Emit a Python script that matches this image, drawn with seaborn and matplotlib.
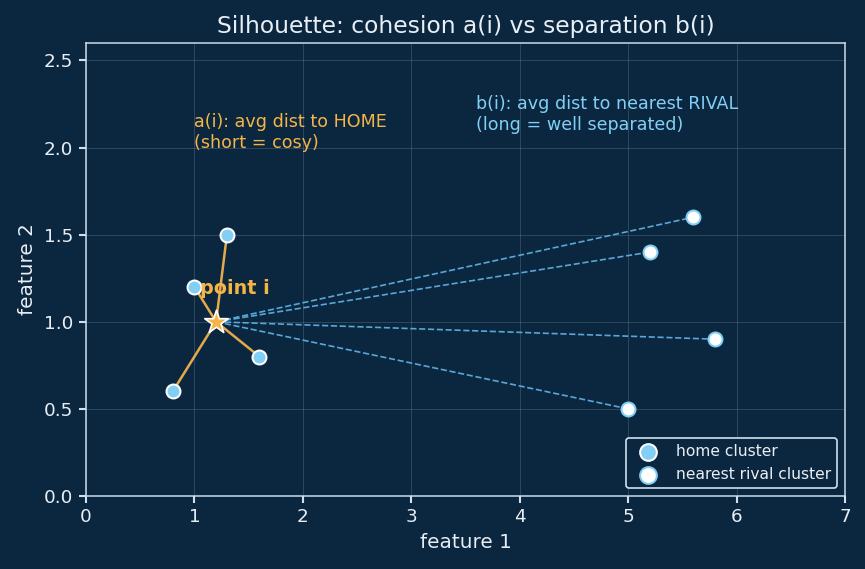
import matplotlib
matplotlib.use("Agg")
import matplotlib.pyplot as plt
import seaborn as sns
import pandas as pd

# data
home_x = [1.3, 1.0, 1.6, 0.8]
home_y = [1.5, 1.2, 0.8, 0.6]
rival_x = [5.6, 5.2, 5.8, 5.0]
rival_y = [1.6, 1.4, 0.9, 0.5]
point_i = (1.2, 1.0)

BG = "#0b2740"
ORANGE = "#f5b546"
BLUE = "#82cff5"
DASH = "#5aa6d6"
FG = "#e8eef4"
SPINE = "#cfe0ee"

sns.set_theme(style="dark")
plt.rcParams["font.family"] = ["DejaVu Sans"]

fig, ax = plt.subplots(figsize=(865 / 120, 569 / 120), dpi=120)
fig.patch.set_facecolor(BG)
ax.set_facecolor(BG)

# connections
for hx, hy in zip(home_x, home_y):
    ax.plot([point_i[0], hx], [point_i[1], hy], color="#e4a94a", lw=1.5, zorder=2)
for rx, ry in zip(rival_x, rival_y):
    ax.plot([point_i[0], rx], [point_i[1], ry], color=DASH, lw=1.0, ls="--", zorder=2)

home = pd.DataFrame({"x": home_x, "y": home_y})
rival = pd.DataFrame({"x": rival_x, "y": rival_y})
sns.scatterplot(data=home, x="x", y="y", ax=ax, s=70, color=BLUE,
                edgecolor="white", linewidth=1.2, zorder=4, label="home cluster")
sns.scatterplot(data=rival, x="x", y="y", ax=ax, s=70, color="white",
                edgecolor=BLUE, linewidth=1.2, zorder=4, label="nearest rival cluster")

ax.scatter([point_i[0]], [point_i[1]], marker="*", s=220, color=ORANGE,
           edgecolor="white", linewidth=1.0, zorder=5)
ax.text(1.05, 1.16, "point i", color=ORANGE, fontsize=11.5, fontweight="bold", zorder=6)

ax.text(1.0, 2.0, "a(i): avg dist to HOME\n(short = cosy)", color=ORANGE, fontsize=10.5)
ax.text(3.6, 2.1, "b(i): avg dist to nearest RIVAL\n(long = well separated)", color=BLUE, fontsize=10.5)

ax.set_xlim(0, 7)
ax.set_ylim(0, 2.6)
ax.set_yticks([0, 0.5, 1.0, 1.5, 2.0, 2.5])
ax.grid(True, color="#8fa6bb", alpha=0.25, lw=0.6)
ax.set_title("Silhouette: cohesion a(i) vs separation b(i)", color=FG, fontsize=14)
ax.set_xlabel("feature 1", color=FG, fontsize=12)
ax.set_ylabel("feature 2", color=FG, fontsize=12)
ax.tick_params(colors=FG, labelsize=11, bottom=True, left=True, length=4, color=SPINE)
for sp in ax.spines.values():
    sp.set_color(SPINE)
    sp.set_linewidth(0.9)

leg = ax.legend(loc="lower right", fontsize=9.3, facecolor=BG, edgecolor=SPINE,
                labelcolor=FG, framealpha=1, markerscale=1.2, handletextpad=0.8)

fig.subplots_adjust(left=0.0994, right=0.9769, top=0.9244, bottom=0.1283)
plt.savefig("out.png", dpi=120, facecolor=BG)
